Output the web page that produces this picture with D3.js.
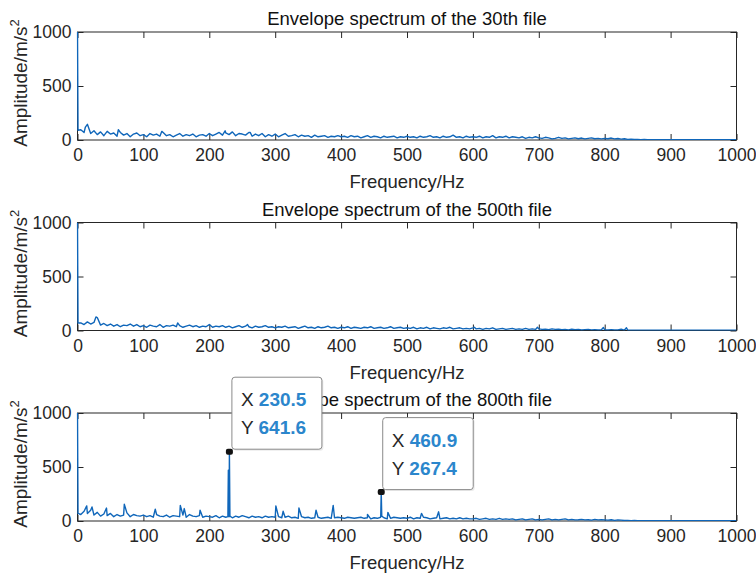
<!DOCTYPE html>
<html>
<head>
<meta charset="utf-8">
<script src="https://cdn.jsdelivr.net/npm/d3@7"></script>
<style>
  body { margin: 0; background: #fff; }
  svg { display: block; font-family: "Liberation Sans", Arial, sans-serif; }
</style>
</head>
<body>
<svg id="chart" width="756" height="575"></svg>
<script>
// amplitude sampled every 5 Hz, 0..1000 Hz
const freqStep = 5
const xTicks = [0, 100, 200, 300, 400, 500, 600, 700, 800, 900, 1000]
const yTicks = [0, 500, 1000]
const titles = [
  "Envelope spectrum of the 30th file",
  "Envelope spectrum of the 500th file",
  "Envelope spectrum of the 800th file"
]

const amp30 = [
  1000, 95, 70, 145, 60, 85, 50, 75, 40, 80, 55, 65, 35, 70, 45, 60, 30, 55, 65, 40,
  50, 30, 60, 45, 55, 35, 70, 40, 50, 30, 45, 60, 35, 50, 40, 55, 30, 45, 50, 35,
  60, 40, 55, 70, 45, 65, 50, 75, 40, 60, 55, 45, 70, 35, 55, 40, 60, 30, 50, 35,
  55, 30, 45, 60, 35, 40, 50, 30, 45, 35, 40, 25, 45, 30, 35, 40, 25, 35, 30, 40,
  30, 35, 25, 40, 30, 35, 20, 30, 40, 25, 35, 30, 20, 35, 25, 30, 35, 20, 30, 25,
  35, 25, 30, 20, 35, 25, 30, 40, 25, 30, 20, 35, 25, 30, 45, 25, 30, 20, 35, 25,
  30, 25, 35, 20, 30, 25, 40, 20, 30, 25, 35, 20, 30, 25, 20, 30, 15, 25, 20, 30,
  20, 15, 25, 20, 10, 15, 25, 15, 20, 10, 15, 20, 12, 18, 10, 15, 20, 12, 15, 10,
  15, 12, 18, 10, 14, 8, 12, 6, 8, 5, 4, 3, 4, 3, 2, 3, 2, 3, 2, 3,
  2, 3, 2, 2, 3, 2, 2, 3, 2, 2, 3, 2, 2, 3, 2, 2, 3, 2, 2, 3, 2
]
const amp500 = [
  1000, 70, 55, 80, 60, 75, 120, 50, 65, 45, 60, 40, 55, 35, 50, 45, 60, 40, 55, 35,
  45, 30, 50, 40, 35, 55, 30, 45, 40, 50, 35, 45, 30, 40, 50, 35, 45, 30, 40, 35,
  55, 30, 40, 35, 45, 30, 40, 25, 35, 45, 30, 40, 35, 25, 40, 30, 35, 45, 30, 35,
  25, 35, 30, 40, 25, 30, 35, 20, 30, 40, 25, 30, 20, 35, 25, 30, 40, 25, 30, 20,
  30, 25, 35, 20, 30, 25, 20, 30, 25, 35, 20, 25, 30, 20, 25, 35, 20, 25, 30, 20,
  25, 20, 30, 15, 25, 20, 30, 15, 25, 20, 15, 25, 20, 30, 15, 20, 25, 15, 20, 15,
  25, 15, 20, 10, 20, 15, 25, 10, 15, 20, 10, 15, 20, 10, 15, 10, 20, 10, 15, 10,
  15, 10, 12, 8, 15, 10, 12, 8, 10, 6, 12, 8, 10, 5, 8, 10, 6, 8, 5, 7,
  6, 5, 8, 4, 5, 12, 4, 3, 3, 2, 3, 2, 2, 3, 2, 2, 3, 2, 2, 3,
  2, 2, 3, 2, 2, 3, 2, 2, 2, 3, 2, 2, 3, 2, 2, 2, 3, 2, 2, 2, 2
]
const amp800 = [
  1000, 60, 90, 70, 100, 55, 80, 45, 65, 50, 70, 40, 60, 45, 55, 75, 40, 60, 50, 45,
  55, 40, 50, 35, 60, 45, 40, 55, 35, 50, 45, 40, 55, 35, 60, 45, 40, 50, 35, 45,
  40, 35, 50, 30, 45, 35, 40, 30, 45, 35, 50, 40, 30, 45, 35, 40, 30, 45, 35, 40,
  35, 40, 30, 35, 45, 30, 35, 25, 40, 30, 35, 25, 30, 35, 25, 30, 35, 25, 30, 35,
  30, 25, 35, 30, 25, 30, 35, 25, 30, 20, 30, 25, 35, 30, 20, 25, 35, 30, 25, 30,
  25, 35, 20, 30, 25, 35, 30, 20, 25, 30, 20, 25, 30, 20, 25, 20, 30, 20, 25, 20,
  20, 25, 15, 20, 25, 15, 20, 15, 25, 15, 20, 15, 20, 10, 15, 20, 10, 15, 20, 10,
  15, 10, 15, 20, 10, 15, 10, 15, 20, 10, 15, 10, 12, 15, 10, 12, 8, 15, 10, 12,
  10, 8, 12, 6, 10, 8, 5, 4, 3, 4, 3, 2, 3, 2, 2, 3, 2, 2, 3, 2,
  2, 2, 3, 2, 2, 3, 2, 2, 3, 2, 2, 2, 3, 2, 2, 3, 2, 2, 2, 3, 2
]

// lines between the 5 Hz samples (DC drop, narrow peaks): [freq, amplitude]
const spikes30 = [[0.8, 90], [12, 120], [62, 95], [128, 80], [224, 85], [262, 70]]
const spikes500 = [[0.8, 70], [28, 125], [152, 70], [258, 55], [602, 30], [698, 30], [798, 28], [833, 25]]
const spikes800 = [
  [0.8, 70], [14, 140], [22, 130], [44, 120], [71, 155], [118, 110], [156, 145], [162, 115],
  [186, 100], [228.2, 40], [228.9, 470], [229.7, 60], [230.5, 641.6], [231.3, 45],
  [301, 140], [312, 90], [336, 120], [362, 100], [388, 145], [440, 60],
  [460.1, 40], [460.9, 267.4], [461.7, 45], [471, 80], [522, 70], [548, 85]
]

const amps = [amp30, amp500, amp800]
const spikes = [spikes30, spikes500, spikes800]

// data tips on the 800th file
const tipX = [230.5, 460.9]
const tipY = [641.6, 267.4]

const svg = d3.select("#chart")
const left = 77.5, right = 736.5, plotH = 108
const tops = [32, 222.5, 413]
const ink = "#262626"
const lineColor = "#0f66ba"

const x = d3.scaleLinear().domain([0, 1000]).range([left, right])

function series(i) {
  const pts = amps[i].map((a, k) => [k * freqStep, a])
  return pts.concat(spikes[i]).sort((a, b) => a[0] - b[0])
}

tops.forEach((top, i) => {
  const y = d3.scaleLinear().domain([0, 1000]).range([top + plotH, top])
  const g = svg.append("g")

  g.append("clipPath").attr("id", "clip" + i)
    .append("rect")
    .attr("x", left - 1).attr("y", top)
    .attr("width", right - left + 1).attr("height", plotH)

  // axes with inward ticks, MATLAB style
  const fmt = d3.format("d")
  const bottomAxis = g.append("g")
    .attr("transform", `translate(0,${top + plotH})`)
    .call(d3.axisBottom(x).tickValues(xTicks).tickFormat(fmt).tickSize(-6).tickPadding(9))
  const topAxis = g.append("g")
    .attr("transform", `translate(0,${top})`)
    .call(d3.axisTop(x).tickValues(xTicks).tickSize(-6).tickFormat(""))
  const leftAxis = g.append("g")
    .attr("transform", `translate(${left},0)`)
    .call(d3.axisLeft(y).tickValues(yTicks).tickFormat(fmt).tickSize(-6).tickPadding(6))
  const rightAxis = g.append("g")
    .attr("transform", `translate(${right},0)`)
    .call(d3.axisRight(y).tickValues(yTicks).tickSize(-6).tickFormat(""))

  ;[bottomAxis, topAxis, leftAxis, rightAxis].forEach(a => {
    a.select(".domain").remove()
    a.selectAll("line").attr("stroke", ink)
    a.selectAll("text")
      .attr("fill", ink)
      .style("font-size", "17.5px")
      .style("font-family", "'Liberation Sans', Arial, sans-serif")
  })

  g.append("rect")
    .attr("x", left).attr("y", top)
    .attr("width", right - left).attr("height", plotH)
    .attr("fill", "none")
    .attr("stroke", ink)
    .attr("stroke-width", 1)

  // spectrum, drawn over the box so the DC line shows on the left edge
  const line = d3.line().x(d => x(d[0])).y(d => y(d[1]))
  g.append("path")
    .datum(series(i))
    .attr("clip-path", `url(#clip${i})`)
    .attr("fill", "none")
    .attr("stroke", lineColor)
    .attr("stroke-width", 1.4)
    .attr("stroke-linejoin", "round")
    .attr("d", line)

  // title
  g.append("text")
    .attr("x", (left + right) / 2)
    .attr("y", top - 7)
    .attr("text-anchor", "middle")
    .attr("fill", "#111")
    .style("font-size", "18.5px")
    .text(titles[i])

  // x label
  g.append("text")
    .attr("x", (left + right) / 2)
    .attr("y", top + plotH + 48)
    .attr("text-anchor", "middle")
    .attr("fill", ink)
    .style("font-size", "18.5px")
    .text("Frequency/Hz")

  // y label
  const yl = g.append("text")
    .attr("transform", `translate(27,${top + plotH / 2 - 3}) rotate(-90)`)
    .attr("text-anchor", "middle")
    .attr("fill", ink)
    .style("font-size", "19px")
  yl.append("tspan").text("Amplitude/m/s")
  yl.append("tspan").attr("dy", -8).style("font-size", "13px").text("2")

  // data tips on the last panel
  if (i === 2) {
    const tips = [
      { w: 90, h: 72, dx: 2.5, dy: -2.5 },
      { w: 90.5, h: 72, dx: 1.5, dy: -2.5 }
    ]
    tipX.forEach((fx, k) => {
      const mx = x(fx), my = y(tipY[k])
      const t = tips[k]
      const bx = mx + t.dx, by = my + t.dy - t.h
      const tip = svg.append("g")
      tip.append("rect")
        .attr("x", bx + 1.5).attr("y", by + 1.5)
        .attr("width", t.w).attr("height", t.h)
        .attr("rx", 3)
        .attr("fill", "#000").attr("opacity", 0.08)
      tip.append("rect")
        .attr("x", bx).attr("y", by)
        .attr("width", t.w).attr("height", t.h)
        .attr("rx", 3)
        .attr("fill", "#fff")
        .attr("stroke", "#8a8a8a")
        .attr("stroke-width", 1)
      tip.append("line")
        .attr("x1", mx).attr("y1", my)
        .attr("x2", bx).attr("y2", by + t.h)
        .attr("stroke", "#555")
      tip.append("rect")
        .attr("x", mx - 3.5).attr("y", my - 3)
        .attr("width", 7).attr("height", 6)
        .attr("rx", 2)
        .attr("fill", "#111")

      const rows = [["X", fx.toFixed(1)], ["Y", tipY[k].toFixed(1)]]
      rows.forEach((r, j) => {
        const tx = tip.append("text")
          .attr("x", bx + 9)
          .attr("y", by + 29 + j * 28)
          .style("font-size", "19px")
        tx.append("tspan").attr("fill", "#262626").text(r[0] + " ")
        tx.append("tspan")
          .attr("fill", "#2b86cc")
          .attr("font-weight", "bold")
          .text(r[1])
      })
    })
  }
})
</script>
</body>
</html>
